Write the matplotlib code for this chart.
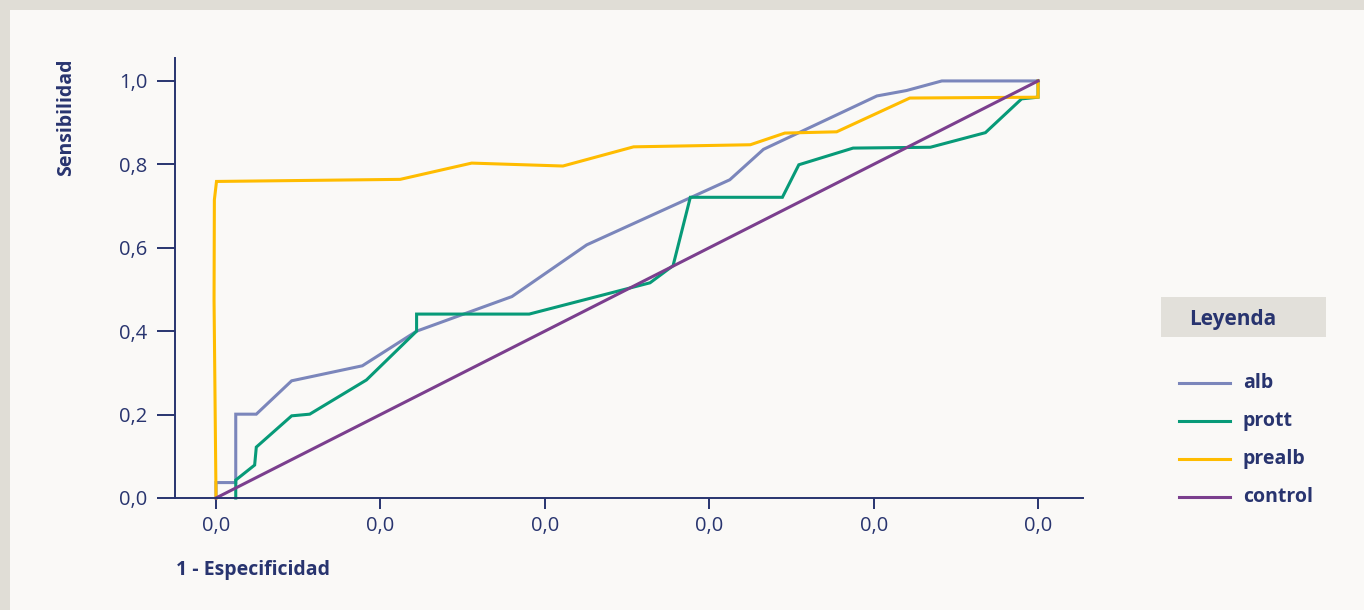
import matplotlib
matplotlib.use("Agg")
import matplotlib.pyplot as plt
from matplotlib.patches import Rectangle
from matplotlib.lines import Line2D

# ROC curves: 1 - specificity (x) vs sensitivity (y)
alb_x = [0.0, 0.0, 0.024, 0.024, 0.049, 0.092, 0.178, 0.244, 0.360, 0.451, 0.625, 0.666, 0.804, 0.840, 0.883, 1.0]
alb_y = [0.0, 0.037, 0.037, 0.201, 0.201, 0.281, 0.317, 0.400, 0.483, 0.607, 0.763, 0.836, 0.964, 0.977, 1.0, 1.0]

prott_x = [0.024, 0.024, 0.047, 0.049, 0.092, 0.114, 0.183, 0.244, 0.244, 0.381, 0.528, 0.556, 0.577, 0.689, 0.709, 0.775, 0.869, 0.936, 0.980, 1.0, 1.0]
prott_y = [0.0, 0.043, 0.079, 0.122, 0.197, 0.201, 0.283, 0.400, 0.441, 0.441, 0.516, 0.557, 0.721, 0.721, 0.799, 0.839, 0.841, 0.876, 0.957, 0.961, 1.0]

prealb_x = [0.0, -0.0024, -0.002, 0.0006, 0.224, 0.311, 0.422, 0.508, 0.650, 0.692, 0.755, 0.844, 1.0, 1.0]
prealb_y = [0.0, 0.475, 0.715, 0.759, 0.764, 0.803, 0.796, 0.842, 0.847, 0.875, 0.878, 0.959, 0.961, 1.0]

control_x = [0.0, 1.0]
control_y = [0.0, 1.0]

series_names = ["alb", "prott", "prealb", "control"]
series_colors = ["#7b86bb", "#079a78", "#ffbc00", "#7b3f8e"]

x_ticks = [0.0, 0.2, 0.4, 0.6, 0.8, 1.0]
x_tick_labels = ["0,0", "0,0", "0,0", "0,0", "0,0", "0,0"]
y_ticks = [0.0, 0.2, 0.4, 0.6, 0.8, 1.0]
y_tick_labels = ["0,0", "0,2", "0,4", "0,6", "0,8", "1,0"]

x_label = "1 - Especificidad"
y_label = "Sensibilidad"
legend_title = "Leyenda"

NAVY = "#28346f"
plt.rcParams["font.family"] = ["Open Sans", "DejaVu Sans"]

W, H = 1364, 610
fig = plt.figure(figsize=(W / 100, H / 100), dpi=100)
fig.patch.set_facecolor("#e0ddd6")
fig.add_artist(Rectangle((10 / W, 0), 1 - 10 / W, 1 - 10 / H, transform=fig.transFigure,
                         facecolor="#faf9f7", edgecolor="none", zorder=0))

ax = fig.add_axes([175 / W, (H - 498) / H, (1083 - 175) / W, (498 - 58) / H])
ax.set_facecolor("none")

xs = [alb_x, prott_x, prealb_x, control_x]
ys = [alb_y, prott_y, prealb_y, control_y]
for x, y, name, col in zip(xs, ys, series_names, series_colors):
    ax.plot(x, y, color=col, lw=2.2, label=name, solid_joinstyle="miter", clip_on=False)

ax.set_xlim(-0.0499, 1.0547)
ax.set_ylim(0, 1.055)

for s in ["top", "right"]:
    ax.spines[s].set_visible(False)
for s in ["left", "bottom"]:
    ax.spines[s].set_color(NAVY)
    ax.spines[s].set_linewidth(1.4)

ax.set_xticks(x_ticks)
ax.set_xticklabels(x_tick_labels)
ax.set_yticks(y_ticks)
ax.set_yticklabels(y_tick_labels)
ax.tick_params(axis="y", length=13, width=1.4, color=NAVY, labelcolor=NAVY, labelsize=14.5, pad=7)
ax.tick_params(axis="x", length=8, width=1.4, color=NAVY, labelcolor=NAVY, labelsize=14.5, pad=5)

fig.text(66 / W, 1 - 58 / H, y_label, rotation=90, ha="center", va="top",
         fontsize=14, fontweight="bold", color=NAVY)
fig.text(176 / W, 1 - 570 / H, x_label, ha="left", va="center",
         fontsize=14, fontweight="bold", color=NAVY)

# Legend panel
fig.add_artist(Rectangle((1161 / W, 1 - 337 / H), (1326 - 1161) / W, 40 / H,
                         transform=fig.transFigure, facecolor="#e2e0da", edgecolor="none"))
fig.text(1189 / W, 1 - 319 / H, legend_title, ha="left", va="center",
         fontsize=15, fontweight="bold", color=NAVY)
for i, line in enumerate(ax.get_lines()):
    yy = 1 - (383 + 38 * i) / H
    fig.add_artist(Line2D([1179 / W, 1230 / W], [yy, yy], transform=fig.transFigure,
                          color=line.get_color(), lw=2.2))
    fig.text(1243 / W, yy, line.get_label(), ha="left", va="center",
             fontsize=14, fontweight="bold", color=NAVY)

fig.savefig("out.png", dpi=100, facecolor=fig.get_facecolor())
